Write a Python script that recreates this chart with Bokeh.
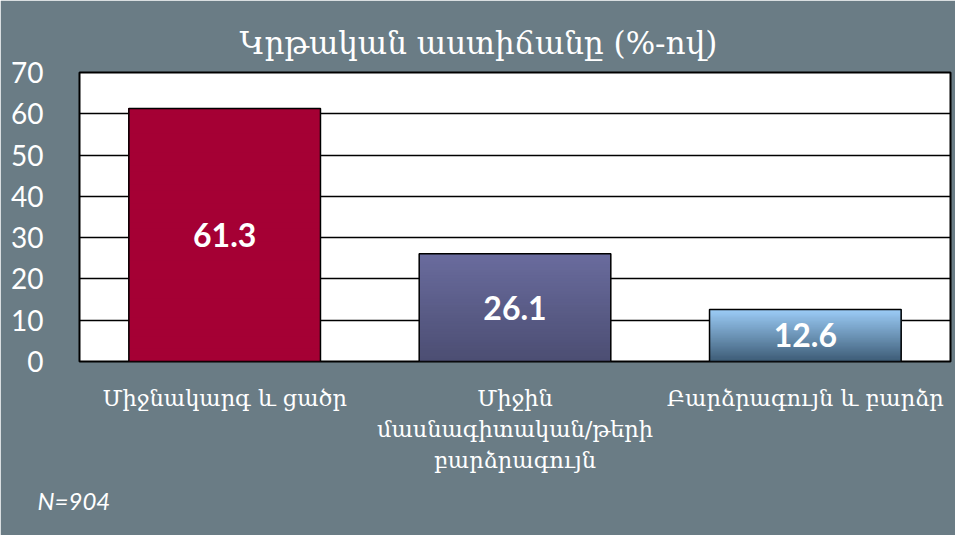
import numpy as np
from bokeh.plotting import figure
from bokeh.models import Title, FixedTicker, ColumnDataSource
from bokeh.core.properties import value
from bokeh.embed import file_html
from bokeh.resources import INLINE

# ---- data ----
categories = ["Միջնակարգ և ցածր",
              "Միջին\nմասնագիտական/թերի\nբարձրագույն",
              "Բարձրագույն և բարձր"]
values = [61.3, 26.1, 12.6]
value_labels = ["61.3", "26.1", "12.6"]
y_ticks = [0, 10, 20, 30, 40, 50, 60, 70]
title_text = "Կրթական աստիճանը (%-ով)"
note_text = "N=904"
top_colors = ["#A50034", "#6A6C9E", "#9DCEF9"]
bottom_colors = ["#A50034", "#4C4E73", "#3E5D77"]

BG = "#6A7C85"
ARM_FONT = "DejaVu Serif"
NUM_FONT = "Lato"

p = figure(x_range=categories, y_range=(0, 70), width=955, height=535,
           output_backend="svg", toolbar_location=None,
           min_border_left=79, min_border_right=5, min_border_top=72, min_border_bottom=174)
p.border_fill_color = BG
p.background_fill_color = "white"
p.outline_line_color = "black"
p.outline_line_width = 2

# gradient bars built from stacked slices
def hex2rgb(h):
    h = h.lstrip("#")
    return np.array([int(h[i:i + 2], 16) for i in (0, 2, 4)], dtype=float)

n = 40
xs, bots, tops, cols = [], [], [], []
for cat, v, tc, bc in zip(categories, values, top_colors, bottom_colors):
    c_top, c_bot = hex2rgb(tc), hex2rgb(bc)
    for k in range(n):
        f = k / n
        c = c_bot + (c_top - c_bot) * f
        xs.append(cat)
        bots.append(v * f)
        tops.append(v)
        cols.append("#%02x%02x%02x" % tuple(int(round(t)) for t in c))
p.vbar(x=xs, bottom=bots, top=tops, width=0.66, fill_color=cols, line_color=None)
p.vbar(x=categories, top=values, width=0.66, fill_alpha=0, line_color="black", line_width=1.5)

src = ColumnDataSource(dict(x=categories, y=[v / 2 for v in values], t=value_labels))
p.text(x="x", y="y", text="t", source=src, text_color="white", text_font=value(NUM_FONT),
       text_font_style="bold", text_font_size="32px", text_align="center", text_baseline="middle")

# axes
p.yaxis.ticker = FixedTicker(ticks=y_ticks)
p.yaxis.axis_line_color = None
p.yaxis.major_tick_line_color = None
p.yaxis.minor_tick_line_color = None
p.yaxis.major_label_text_color = "white"
p.yaxis.major_label_text_font = NUM_FONT
p.yaxis.major_label_text_font_size = "28px"
p.yaxis.major_label_standoff = 30

p.xaxis.axis_line_color = None
p.xaxis.major_tick_line_color = None
p.xaxis.major_label_text_color = "white"
p.xaxis.major_label_text_font = ARM_FONT
p.xaxis.major_label_text_font_size = "22.5px"
p.xaxis.major_label_standoff = 17

p.xgrid.grid_line_color = None
p.ygrid.grid_line_color = "black"
p.ygrid.grid_line_width = 1.5
p.ygrid.ticker = FixedTicker(ticks=y_ticks)

p.title.text = title_text
p.title.align = "left"
p.title.offset = 160
p.title.text_color = "white"
p.title.text_font = ARM_FONT
p.title.text_font_style = "normal"
p.title.text_font_size = "31px"
p.title.standoff = 24

p.add_layout(Title(text=note_text, align="left", offset=-42, text_color="white",
                   text_font=NUM_FONT, text_font_style="italic", text_font_size="24px",
                   standoff=16), "below")

open("out.html", "w").write(file_html(p, INLINE))
